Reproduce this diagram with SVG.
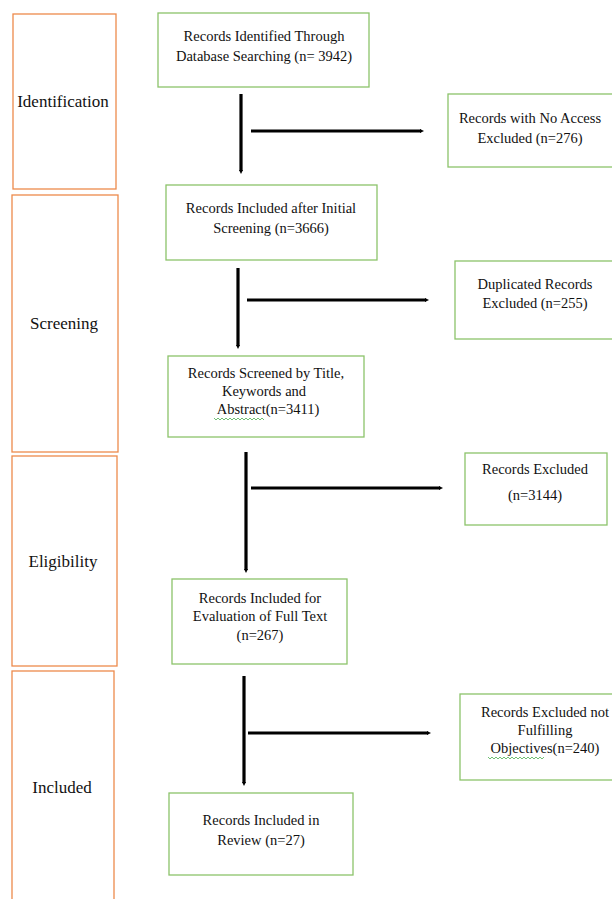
<svg xmlns="http://www.w3.org/2000/svg" width="612" height="899" viewBox="0 0 612 899">
<style>
.stage{fill:#fff;stroke:#ED8A4C;stroke-width:1.3}
.box{fill:#fff;stroke:#8CC36A;stroke-width:1.3}
text{font-family:"Liberation Serif","Times New Roman",serif;fill:#111;text-anchor:middle}
.t{font-size:14.5px}
.s{font-size:17px}
.c{stroke:#000;stroke-width:3.2;fill:none}
.sq{stroke:#4CAF50;stroke-width:0.8;fill:none}
</style>
<defs>
<marker id="ah" viewBox="0 0 4 4" refX="1" refY="2" markerWidth="4" markerHeight="4" markerUnits="userSpaceOnUse" orient="auto">
<path d="M0,0 L4,2 L0,4 z" fill="#000"/>
</marker>
</defs>
<rect width="612" height="899" fill="#fff"/>
<g id="stage-identification"><rect class="stage" x="13" y="14" width="103" height="175"/><text class="s" x="63" y="107">Identification</text></g>
<g id="stage-screening"><rect class="stage" x="12" y="195" width="106" height="257"/><text class="s" x="64" y="329">Screening</text></g>
<g id="stage-eligibility"><rect class="stage" x="12" y="456" width="105" height="210"/><text class="s" x="63" y="567">Eligibility</text></g>
<g id="stage-included"><rect class="stage" x="12" y="671" width="102" height="240"/><text class="s" x="62" y="793">Included</text></g>

<g id="n-identified"><rect class="box" x="158" y="13" width="211" height="74"/><text class="t" x="264" y="41">Records Identified Through</text><text class="t" x="264" y="61">Database Searching (n= 3942)</text></g>
<g id="n-noaccess"><rect class="box" x="448" y="94" width="166" height="73"/><text class="t" x="530" y="123">Records with No Access</text><text class="t" x="530" y="143">Excluded (n=276)</text></g>
<g id="n-initial"><rect class="box" x="166" y="185" width="211" height="75"/><text class="t" x="271" y="213">Records Included after Initial</text><text class="t" x="271" y="233">Screening (n=3666)</text></g>
<g id="n-duplicated"><rect class="box" x="455" y="261" width="159" height="78"/><text class="t" x="535" y="289">Duplicated Records</text><text class="t" x="535" y="308">Excluded (n=255)</text></g>
<g id="n-screened"><rect class="box" x="168" y="356" width="196" height="81"/><text class="t" x="266" y="378">Records Screened by Title,</text><text class="t" x="264" y="396">Keywords and</text><text class="t" x="268" y="414">Abstract(n=3411)</text><path class="sq" d="M214,418 l2,2 l2,-2 l2,2 l2,-2 l2,2 l2,-2 l2,2 l2,-2 l2,2 l2,-2 l2,2 l2,-2 l2,2 l2,-2 l2,2 l2,-2 l2,2 l2,-2 l2,2 l2,-2 l2,2 l2,-2 l2,2 l2,-2 l2,2"/></g>
<g id="n-excluded"><rect class="box" x="465" y="453" width="142" height="72"/><text class="t" x="535" y="474">Records Excluded</text><text class="t" x="535" y="500">(n=3144)</text></g>
<g id="n-fulltext"><rect class="box" x="172" y="579" width="175" height="85"/><text class="t" x="260" y="603">Records Included for</text><text class="t" x="260" y="621">Evaluation of Full Text</text><text class="t" x="260" y="640">(n=267)</text></g>
<g id="n-objectives"><rect class="box" x="460" y="694" width="154" height="86"/><text class="t" x="545" y="717">Records Excluded not</text><text class="t" x="545" y="735">Fulfilling</text><text class="t" x="545" y="753">Objectives(n=240)</text><path class="sq" d="M488,757 l2,2 l2,-2 l2,2 l2,-2 l2,2 l2,-2 l2,2 l2,-2 l2,2 l2,-2 l2,2 l2,-2 l2,2 l2,-2 l2,2 l2,-2 l2,2 l2,-2 l2,2 l2,-2 l2,2 l2,-2 l2,2 l2,-2 l2,2 l2,-2 l2,2 l2,-2"/></g>
<g id="n-review"><rect class="box" x="169" y="793" width="184" height="82"/><text class="t" x="261" y="825">Records Included in</text><text class="t" x="261" y="845">Review (n=27)</text></g>

<g id="connectors">
<line class="c" x1="241" y1="94" x2="241" y2="171" marker-end="url(#ah)"/>
<line class="c" x1="251" y1="131" x2="421" y2="131" marker-end="url(#ah)"/>
<line class="c" x1="238" y1="268" x2="238" y2="346" marker-end="url(#ah)"/>
<line class="c" x1="247" y1="300" x2="426" y2="300" marker-end="url(#ah)"/>
<line class="c" x1="246" y1="452" x2="246" y2="570" marker-end="url(#ah)"/>
<line class="c" x1="251" y1="488" x2="440" y2="488" marker-end="url(#ah)"/>
<line class="c" x1="244" y1="676" x2="244" y2="783" marker-end="url(#ah)"/>
<line class="c" x1="248" y1="733" x2="428" y2="733" marker-end="url(#ah)"/>
</g>
</svg>
